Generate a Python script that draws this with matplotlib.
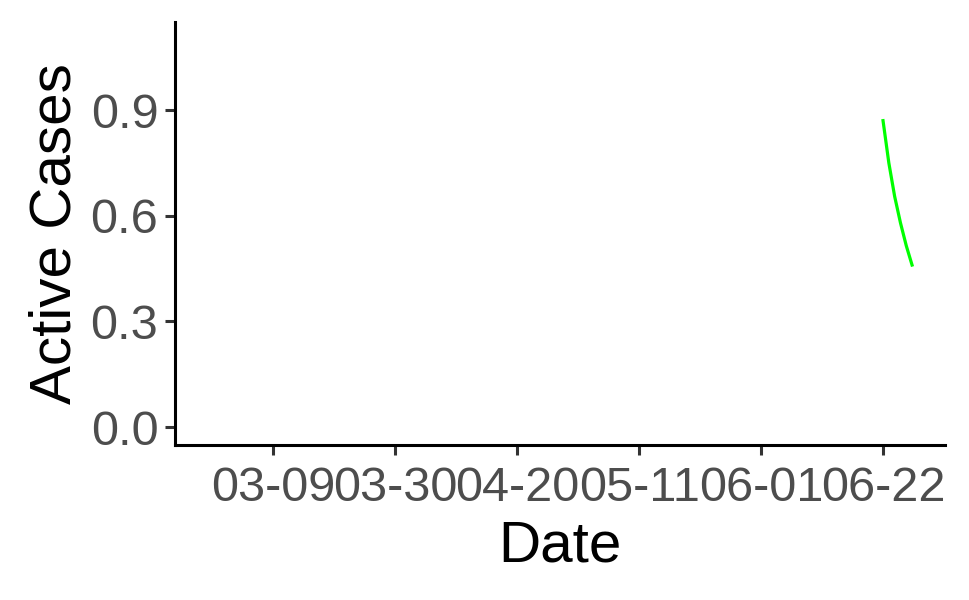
import matplotlib
matplotlib.use("Agg")
import matplotlib.pyplot as plt
import matplotlib.dates as mdates
import pandas as pd

# data -------------------------------------------------------------
dates = pd.to_datetime(["2020-06-22", "2020-06-23", "2020-06-24",
                        "2020-06-25", "2020-06-26", "2020-06-27"])
active = [0.87, 0.75, 0.655, 0.58, 0.515, 0.46]

tick_dates = pd.to_datetime(["2020-03-09", "2020-03-30", "2020-04-20",
                             "2020-05-11", "2020-06-01", "2020-06-22"])
y_ticks = [0.0, 0.3, 0.6, 0.9]

# plot -------------------------------------------------------------
plt.rcParams['font.family'] = ['Liberation Sans', 'DejaVu Sans']

fig = plt.figure(figsize=(9.7, 6.0), dpi=100)
ax = fig.add_axes([0.1804, 0.2583, 0.7938, 0.705])

ax.plot(dates, active, color='#00FF00', linewidth=2.3)

ax.set_xlim(pd.Timestamp("2020-02-21 02:00"), pd.Timestamp("2020-07-02 16:00"))
ax.set_ylim(-0.051, 1.15)

ax.set_xticks(tick_dates)
ax.xaxis.set_major_formatter(mdates.DateFormatter('%m-%d'))
ax.set_yticks(y_ticks)
ax.set_yticklabels(['%.1f' % v for v in y_ticks])

ax.tick_params(axis='both', labelsize=35, labelcolor='#4D4D4D',
               length=7, width=2.2, color='#333333')
ax.tick_params(axis='x', pad=8)
ax.tick_params(axis='y', pad=5)

for s in ['top', 'right']:
    ax.spines[s].set_visible(False)
for s in ['left', 'bottom']:
    ax.spines[s].set_linewidth(2.2)

ax.set_xlabel('Date', fontsize=42, labelpad=6)
ax.set_ylabel('Active Cases', fontsize=42, labelpad=6)

fig.savefig('out.png', dpi=100)
